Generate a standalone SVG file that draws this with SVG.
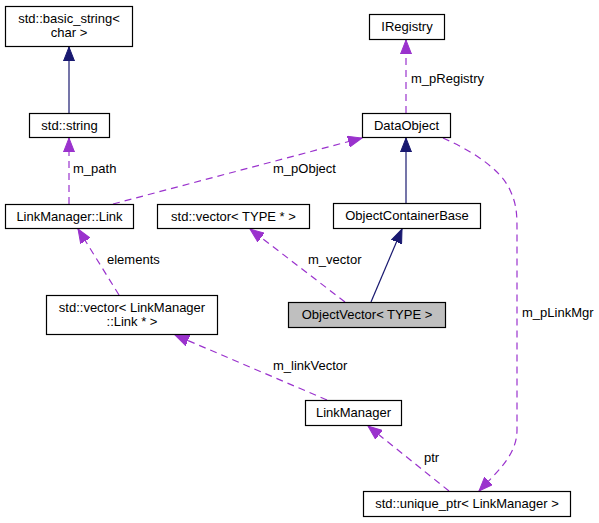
<svg xmlns="http://www.w3.org/2000/svg" width="599" height="523" viewBox="0 0 599 523">
<style>
.box{fill:#ffffff;stroke:#000000;stroke-width:1.2}
.sel{fill:#bfbfbf;stroke:#000000;stroke-width:1.2}
.t{font-family:"Liberation Sans",Arial,sans-serif;font-size:13px;fill:#000000;text-anchor:middle}
.l{font-family:"Liberation Sans",Arial,sans-serif;font-size:13px;fill:#000000}
.inh{fill:none;stroke:#191970;stroke-width:1.2}
.use{fill:none;stroke:#9a32cd;stroke-width:1.2;stroke-dasharray:7,5}
</style>
<defs>
<marker id="an" markerUnits="userSpaceOnUse" markerWidth="15" markerHeight="12" refX="14" refY="5.5" orient="auto" viewBox="0 0 15 11">
<path d="M0,0 L14,5.5 L0,11 z" fill="#191970" stroke="#191970"/>
</marker>
<marker id="ap" markerUnits="userSpaceOnUse" markerWidth="15" markerHeight="12" refX="14" refY="5.5" orient="auto" viewBox="0 0 15 11">
<path d="M0,0 L14,5.5 L0,11 z" fill="#9a32cd" stroke="#9a32cd"/>
</marker>
</defs>
<rect width="599" height="523" fill="#ffffff"/>
<g id="connectors">
<path class="inh" d="M69,113 L69,47" marker-end="url(#an)"/>
<path class="use" d="M69,204 L69,138" marker-end="url(#ap)"/>
<text class="l" x="73" y="173">m_path</text>
<path class="use" d="M113,204 L362,138" marker-end="url(#ap)"/>
<text class="l" x="273" y="173">m_pObject</text>
<path class="use" d="M406,113 L406,40" marker-end="url(#ap)"/>
<text class="l" x="411" y="83">m_pRegistry</text>
<path class="inh" d="M406,203 L406,138" marker-end="url(#an)"/>
<path class="inh" d="M371,302 L402,229" marker-end="url(#an)"/>
<path class="use" d="M345,302 L250,229" marker-end="url(#ap)"/>
<text class="l" x="308" y="264">m_vector</text>
<path class="use" d="M119,295 L78,229" marker-end="url(#ap)"/>
<text class="l" x="107" y="264">elements</text>
<path class="use" d="M327,400 L175,335" marker-end="url(#ap)"/>
<text class="l" x="273" y="370">m_linkVector</text>
<path class="use" d="M449,491 L368,426" marker-end="url(#ap)"/>
<text class="l" x="424" y="462">ptr</text>
<path class="use" d="M443,138 C470,150 500,168 510,190 C517,205 517,215 517,232 L517,430 C517,455 497,472 479,491" marker-end="url(#ap)"/>
<text class="l" x="522" y="317">m_pLinkMgr</text>
</g>
<g id="node_basic_string">
<rect class="box" x="5.5" y="6.5" width="127" height="40"/>
<text class="t" x="69" y="23">std::basic_string&lt;</text>
<text class="t" x="69" y="37">char &gt;</text>
</g>
<g id="node_string">
<rect class="box" x="29.5" y="113.5" width="80" height="24"/>
<text class="t" x="69.5" y="130">std::string</text>
</g>
<g id="node_link">
<rect class="box" x="5.5" y="204.5" width="128" height="24"/>
<text class="t" x="69.5" y="221">LinkManager::Link</text>
</g>
<g id="node_vector_type">
<rect class="box" x="157.5" y="204.5" width="152" height="24"/>
<text class="t" x="233.5" y="221">std::vector&lt; TYPE * &gt;</text>
</g>
<g id="node_iregistry">
<rect class="box" x="369.5" y="14.5" width="75" height="25"/>
<text class="t" x="407" y="31">IRegistry</text>
</g>
<g id="node_dataobject">
<rect class="box" x="362.5" y="113.5" width="88" height="24"/>
<text class="t" x="406.5" y="130">DataObject</text>
</g>
<g id="node_objectcontainerbase">
<rect class="box" x="333.5" y="203.5" width="147" height="25"/>
<text class="t" x="407" y="220">ObjectContainerBase</text>
</g>
<g id="node_objectvector">
<rect class="sel" x="288.5" y="302.5" width="157" height="25"/>
<text class="t" x="367" y="319">ObjectVector&lt; TYPE &gt;</text>
</g>
<g id="node_vector_link">
<rect class="box" x="46.5" y="295.5" width="171" height="39"/>
<text class="t" x="132" y="312">std::vector&lt; LinkManager</text>
<text class="t" x="132" y="326">::Link * &gt;</text>
</g>
<g id="node_linkmanager">
<rect class="box" x="305.5" y="400.5" width="96" height="25"/>
<text class="t" x="353.5" y="417">LinkManager</text>
</g>
<g id="node_unique_ptr">
<rect class="box" x="363.5" y="491.5" width="207" height="25"/>
<text class="t" x="467" y="508">std::unique_ptr&lt; LinkManager &gt;</text>
</g>
</svg>
